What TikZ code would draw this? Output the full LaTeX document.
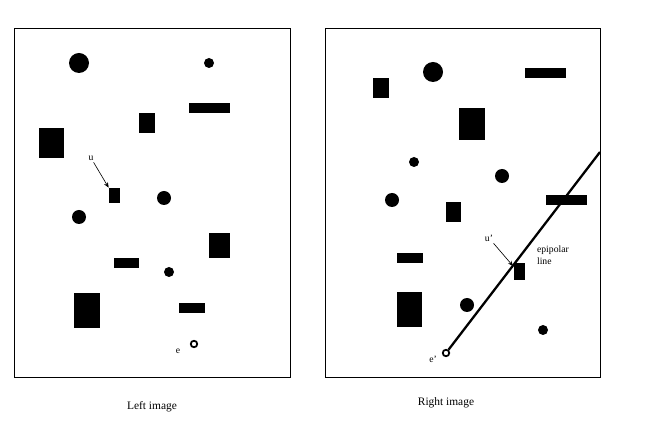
\documentclass[tikz,border=0pt]{standalone}
\usepackage{fontspec}
\setmainfont{Liberation Serif}
\usetikzlibrary{arrows.meta}

\tikzset{
  frame/.style={draw, line width=0.5pt},
  blob/.style={fill=black},
  pt/.style={circle, draw, line width=1pt, inner sep=0pt, minimum size=1.3mm},
  tag/.style={font=\fontsize{5.5}{6.5}\selectfont, inner sep=1pt},
  caption/.style={font=\fontsize{6.5}{8}\selectfont},
  pointer/.style={-{Stealth[length=3pt,width=2.5pt]}, line width=0.35pt}
}

\begin{document}
\begin{tikzpicture}[x=0.02cm,y=-0.02cm]
  \useasboundingbox (0,0) rectangle (645,428);

  % Left image
  \draw[frame] (14,28) rectangle (290,377);
  \fill[blob] (79,63) circle (10);
  \fill[blob] (209,63) circle (5);
  \fill[blob] (189,103) rectangle (230,113);
  \fill[blob] (139,113) rectangle (155,133);
  \fill[blob] (39,128) rectangle (64,158);
  \node[blob, inner sep=0pt, minimum width=2.2mm, minimum height=3mm] (u) at (114.5,195.5) {};
  \fill[blob] (164,198) circle (7);
  \fill[blob] (79,217) circle (7);
  \fill[blob] (209,233) rectangle (230,258);
  \fill[blob] (114,258) rectangle (139,268);
  \fill[blob] (169,272) circle (5);
  \fill[blob] (74,293) rectangle (100,328);
  \fill[blob] (179,303) rectangle (205,313);
  \node[pt] (e) at (194,344) {};
  \node[tag] (elabel) at (178,351) {e};
  \node[tag] (ulabel) at (91,158) {u};
  \draw[pointer] (ulabel) -- (u.north west);
  \node[caption] (lcap) at (152,407) {Left image};

  % Right image
  \draw[frame] (325,28) rectangle (600,377);
  \fill[blob] (433,72) circle (10);
  \fill[blob] (373,78) rectangle (389,98);
  \fill[blob] (525,68) rectangle (566,78);
  \fill[blob] (459,108) rectangle (485,140);
  \fill[blob] (414,162) circle (5);
  \fill[blob] (502,176) circle (7);
  \fill[blob] (392,200) circle (7);
  \fill[blob] (546,195) rectangle (587,205);
  \fill[blob] (446,202) rectangle (461,222);
  \fill[blob] (397,253) rectangle (423,263);
  \node[blob, inner sep=0pt, minimum width=2.2mm, minimum height=3.4mm] (uprime) at (519.5,271.5) {};
  \fill[blob] (467,305) circle (7);
  \fill[blob] (397,292) rectangle (422,327);
  \fill[blob] (543,330) circle (5);
  \node[pt] (eprime) at (446,353) {};
  \coordinate (lineend) at (600,152);
  \draw[line width=1.3pt] (eprime) -- (lineend);
  \node[tag] (eplabel) at (433,359) {e'};
  \node[tag] (uplabel) at (489,238) {u'};
  \draw[pointer] (uplabel) -- (513,266);
  \node[tag, align=left, anchor=west] (epilabel) at (535,255) {epipolar\\line};
  \node[caption] (rcap) at (446,403) {Right image};
\end{tikzpicture}
\end{document}
